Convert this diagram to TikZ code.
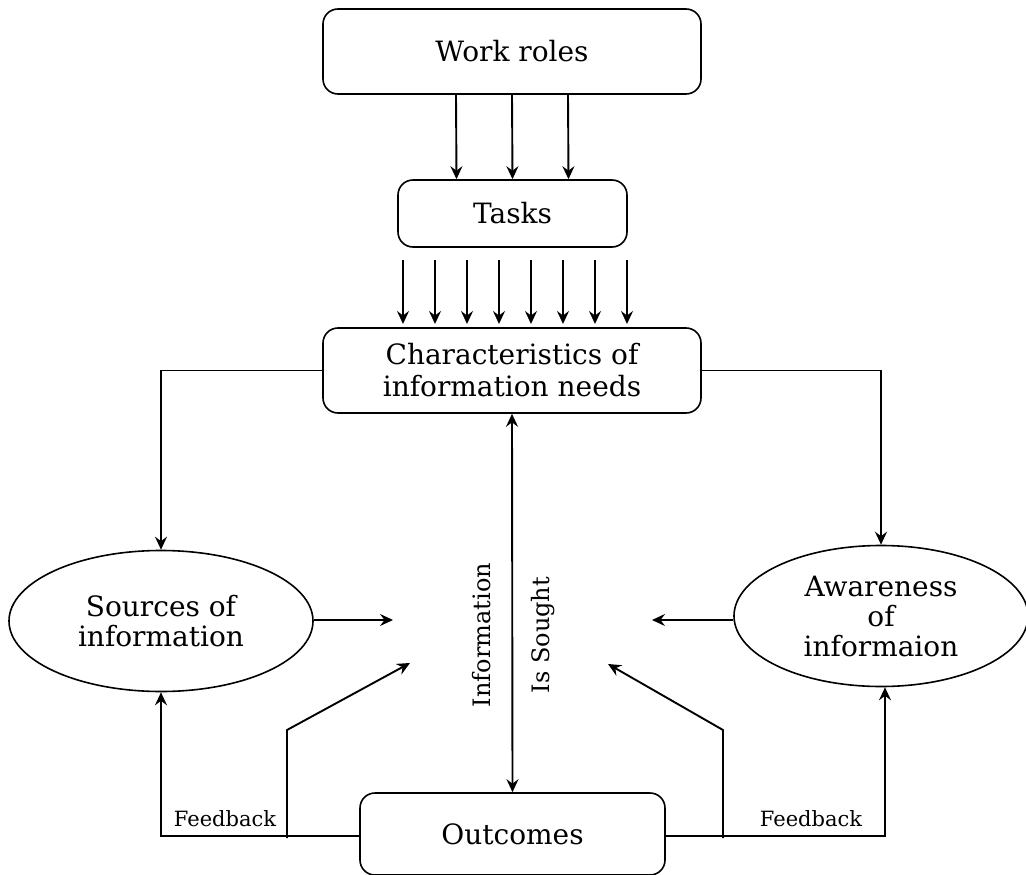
\documentclass[tikz,border=0pt]{standalone}
\usepackage{fontspec}
\setmainfont{DejaVu Serif}
\usetikzlibrary{shapes.geometric,arrows.meta}
\begin{document}
\begin{tikzpicture}[x=1pt,y=-1pt,
  line width=1.9pt,
  arr/.style={-{Stealth[length=13pt,width=12pt,inset=4.5pt]}},
  darr/.style={{Stealth[length=13pt,width=12pt,inset=4.5pt]}-{Stealth[length=13pt,width=12pt,inset=4.5pt]}},
  rbox/.style={draw,line width=1.6pt,rounded corners=15pt,inner sep=0pt,align=center,font=\fontsize{28}{32}\selectfont},
  ell/.style={draw,line width=1.6pt,ellipse,inner sep=0pt,align=center,font=\fontsize{28}{30}\selectfont},
  lbl/.style={font=\fontsize{24}{26}\selectfont,inner sep=0pt},
  fb/.style={font=\fontsize{21}{22}\selectfont,inner sep=0pt}]
\useasboundingbox (0,0) rectangle (1026,875);
\node[rbox,minimum width=378pt,minimum height=85pt] (wr) at (512,51.5) {Work roles};
\node[rbox,minimum width=229pt,minimum height=67pt] (tk) at (512.5,213.5) {Tasks};
\node[rbox,minimum width=378pt,minimum height=85pt] (cb) at (512,370.5) {Characteristics of\\information needs};
\node[ell,minimum width=304pt,minimum height=141pt] (src) at (161,621) {Sources of\\information};
\node[ell,minimum width=294pt,minimum height=141pt] (aw) at (881,616) {Awareness\\of\\informaion};
\node[rbox,minimum width=305pt,minimum height=82pt] (out) at (512.5,834) {Outcomes};
\node[lbl,rotate=90] (info) at (482,635) {Information};
\node[lbl,rotate=90] (sought) at (543,635) {Is Sought};
\node[fb] (fbl) at (225,819) {Feedback};
\node[fb] (fbr) at (811,819) {Feedback};
% work roles -> tasks
\foreach \s in {-56,0,56}
  \draw[arr] ([xshift=\s pt]wr.south) -- ([xshift=\s pt]tk.north);
% tasks -> characteristics
\foreach \x [count=\i] in {403,435,467,499,531,563,595,627}{
  \coordinate (ta\i) at (\x,260);
  \coordinate (tb\i) at (\x,324);
  \draw[arr] (ta\i) -- (tb\i);
}
\draw[arr] (cb.west) -| (src.north);
\draw[arr] (cb.east) -| (aw.north);
\draw[darr] (cb.south) -- (out.north);
% side arrows
\coordinate (srcT) at (393,620);
\coordinate (awT) at (652,620);
\draw[arr] (src.east |- srcT) -- (srcT);
\draw[arr] (aw.west |- awT) -- (awT);
% feedback
\coordinate (fbL) at (161,836);
\coordinate (fbR) at (885,836);
\draw[arr] (out.west |- fbL) -- (fbL) -- (src.south);
\draw[arr] (out.east |- fbR) -- (fbR) -- (aw.south -| fbR);
% bent arrows
\coordinate (bl0) at (287,838);
\coordinate (bl1) at (287,730);
\coordinate (bl2) at (410,663);
\coordinate (br0) at (723,838);
\coordinate (br1) at (723,730);
\coordinate (br2) at (608,664);
\draw[arr] (bl0) -- (bl1) -- (bl2);
\draw[arr] (br0) -- (br1) -- (br2);
\end{tikzpicture}
\end{document}
